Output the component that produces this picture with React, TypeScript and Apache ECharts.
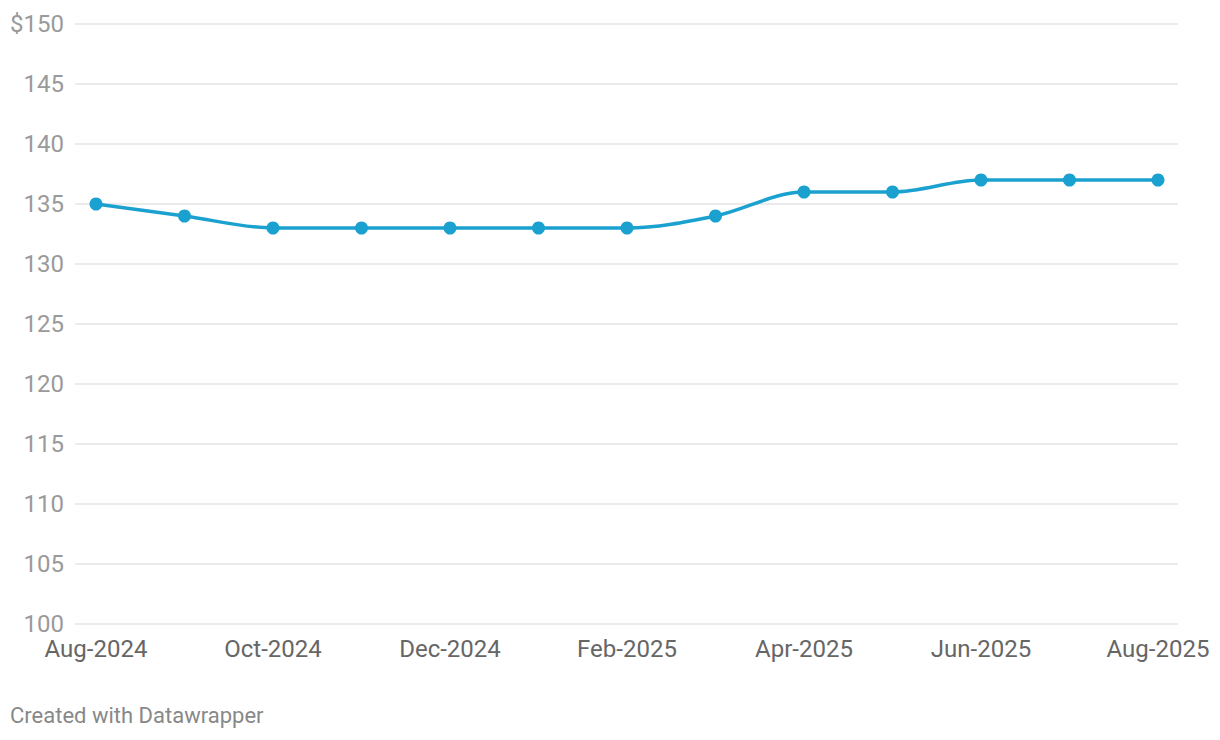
import React, { useEffect, useRef } from "react";
import * as echarts from "echarts";

const months = [
  "Aug-2024", "Sep-2024", "Oct-2024", "Nov-2024", "Dec-2024", "Jan-2025", "Feb-2025",
  "Mar-2025", "Apr-2025", "May-2025", "Jun-2025", "Jul-2025", "Aug-2025",
];
const prices = [135, 134, 133, 133, 133, 133, 133, 134, 136, 136, 137, 137, 137];
const yMin = 100;
const yMax = 150;
const yStep = 5;

const LINE_COLOR = "#1aa1cf";

function monotoneSegments(pts: number[][]) {
  const n = pts.length;
  const h: number[] = [];
  const s: number[] = [];
  for (let i = 0; i < n - 1; i++) {
    h.push(pts[i + 1][0] - pts[i][0]);
    s.push((pts[i + 1][1] - pts[i][1]) / h[i]);
  }
  const t: number[] = new Array(n).fill(0);
  for (let i = 1; i < n - 1; i++) {
    const s0 = s[i - 1];
    const s1 = s[i];
    const p = (s0 * h[i] + s1 * h[i - 1]) / (h[i - 1] + h[i]);
    t[i] = (Math.sign(s0) + Math.sign(s1)) * Math.min(Math.abs(s0), Math.abs(s1), 0.5 * Math.abs(p)) || 0;
  }
  if (n > 2) {
    t[0] = (3 * s[0] - t[1]) / 2;
    t[n - 1] = (3 * s[n - 2] - t[n - 2]) / 2;
  } else if (n === 2) {
    t[0] = t[1] = s[0];
  }
  const segs: any[] = [];
  for (let i = 0; i < n - 1; i++) {
    const dx = h[i] / 3;
    segs.push({
      type: "bezierCurve",
      shape: {
        x1: pts[i][0],
        y1: pts[i][1],
        cpx1: pts[i][0] + dx,
        cpy1: pts[i][1] + dx * t[i],
        cpx2: pts[i + 1][0] - dx,
        cpy2: pts[i + 1][1] - dx * t[i + 1],
        x2: pts[i + 1][0],
        y2: pts[i + 1][1],
      },
      style: { stroke: LINE_COLOR, lineWidth: 3.5, fill: "none" },
    });
  }
  return segs;
}

export default function App() {
  const ref = useRef<HTMLDivElement>(null);
  useEffect(() => {
    if (!ref.current) return;
    const chart = echarts.init(ref.current, undefined, { renderer: "svg" });
    const font = "Roboto, 'Noto Sans', sans-serif";
    chart.setOption({
      animation: false,
      grid: [
        { left: 75, right: 42, top: 24, bottom: 116 },
        { left: 96, right: 62, top: 24, bottom: 116 },
      ],
      xAxis: [
        { type: "category", gridIndex: 0, data: months, show: false },
        {
          type: "category",
          gridIndex: 1,
          data: months,
          boundaryGap: false,
          axisLine: { show: false },
          axisTick: { show: false },
          axisLabel: {
            interval: 1,
            color: "#666666",
            fontFamily: font,
            fontSize: 24,
            margin: 13,
          },
        },
      ],
      yAxis: [
        {
          type: "value",
          gridIndex: 0,
          min: yMin,
          max: yMax,
          interval: yStep,
          axisLine: { show: false },
          axisTick: { show: false },
          splitLine: { lineStyle: { color: "#e4e4e4", width: 1.5 } },
          axisLabel: {
            color: "#9a9a9a",
            fontFamily: font,
            fontSize: 24,
            margin: 11,
            formatter: (v: number) => (v === yMax ? "$" + v : String(v)),
          },
        },
        {
          type: "value",
          gridIndex: 1,
          min: yMin,
          max: yMax,
          interval: yStep,
          show: false,
        },
      ],
      series: [
        {
          type: "custom",
          xAxisIndex: 1,
          yAxisIndex: 1,
          data: prices.map((v, i) => [i, v]),
          z: 2,
          silent: true,
          renderItem: (params: any, api: any) => {
            if (params.dataIndex !== 0) return null;
            const pts = prices.map((v, i) => api.coord([i, v]));
            return { type: "group", children: monotoneSegments(pts) };
          },
        },
        {
          type: "line",
          xAxisIndex: 1,
          yAxisIndex: 1,
          data: prices,
          z: 3,
          symbol: "circle",
          symbolSize: 13,
          lineStyle: { opacity: 0, width: 0 },
          itemStyle: { color: LINE_COLOR },
        },
      ],
      graphic: [
        {
          type: "text",
          left: 10,
          top: 704,
          style: {
            text: "Created with Datawrapper",
            fill: "#888888",
            font: "22px Roboto, 'Noto Sans', sans-serif",
          },
        },
      ],
    });
    return () => chart.dispose();
  }, []);
  return (
    <div
      ref={ref}
      style={{ position: "fixed", left: 0, top: 0, width: 1220, height: 740, background: "#fff" }}
    />
  );
}
